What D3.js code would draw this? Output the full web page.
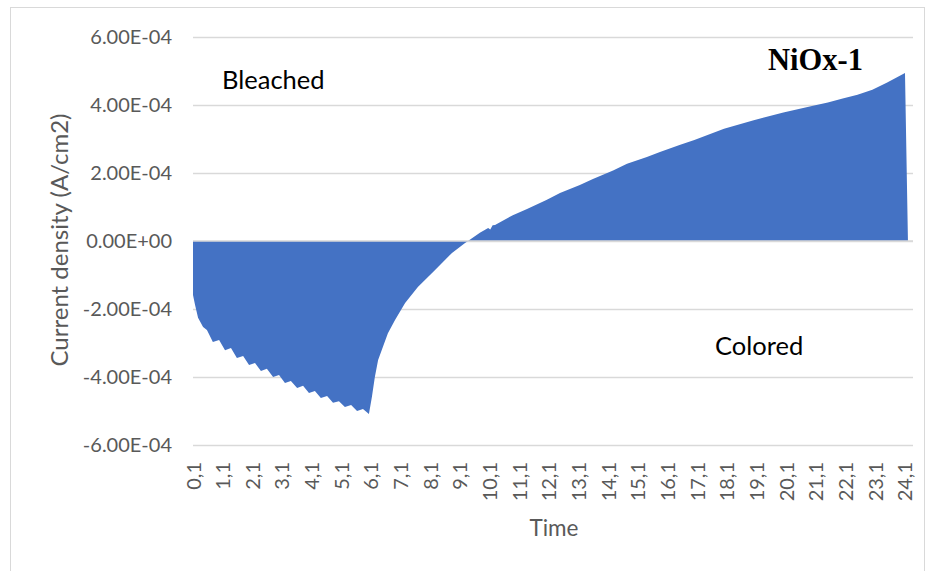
<!DOCTYPE html>
<html>
<head>
<meta charset="utf-8">
<script src="https://cdn.jsdelivr.net/npm/d3@7"></script>
<style>
  html, body { margin: 0; padding: 0; background: #fff; }
  svg { display: block; }
</style>
</head>
<body>
<svg id="chart" width="934" height="571"></svg>
<script>
// ---- data ----
const times = [
  0.10, 0.17, 0.27, 0.44,
  0.57, 0.77, 0.98, 1.18, 1.38, 1.58, 1.79, 1.99, 2.19, 2.39, 2.59, 2.80,
  3.00, 3.20, 3.40, 3.61, 3.81, 4.01, 4.21, 4.41, 4.62, 4.82, 5.02, 5.22,
  5.43, 5.63, 5.83, 6.03,
  6.13, 6.23, 6.34, 6.50, 6.67, 6.91, 7.25, 7.68, 8.26, 8.83, 9.27, 9.37,
  9.77, 10.05, 10.12, 10.20, 10.28, 10.88, 11.36, 12.03, 12.47, 13.14, 13.58,
  14.26, 14.73, 15.40, 15.84, 16.50, 17.00, 18.00, 19.00, 20.00, 21.00, 21.50,
  22.00, 22.50, 23.00, 23.50, 23.80, 24.10, 24.20
];
const currentDensity = [
  -1.59e-4, -1.88e-4, -2.26e-4, -2.53e-4,
  -2.62e-4, -2.97e-4, -2.91e-4, -3.21e-4, -3.15e-4, -3.44e-4, -3.38e-4, -3.65e-4,
  -3.59e-4, -3.82e-4, -3.76e-4, -4.00e-4, -3.94e-4, -4.18e-4, -4.12e-4, -4.32e-4,
  -4.26e-4, -4.47e-4, -4.41e-4, -4.62e-4, -4.56e-4, -4.76e-4, -4.71e-4, -4.88e-4,
  -4.82e-4, -5.00e-4, -4.94e-4, -5.09e-4,
  -4.59e-4, -4.00e-4, -3.50e-4, -3.12e-4, -2.71e-4, -2.32e-4, -1.82e-4, -1.35e-4,
  -0.85e-4, -0.35e-4, -0.06e-4, 0.00e-4,
  0.24e-4, 0.38e-4, 0.34e-4, 0.46e-4, 0.47e-4, 0.76e-4, 0.94e-4, 1.21e-4, 1.41e-4,
  1.65e-4, 1.82e-4, 2.07e-4, 2.27e-4, 2.47e-4, 2.62e-4, 2.82e-4, 2.97e-4, 3.30e-4,
  3.55e-4, 3.78e-4, 3.98e-4, 4.07e-4, 4.19e-4, 4.30e-4, 4.45e-4, 4.66e-4, 4.80e-4,
  4.94e-4, 0.00e-4
];
const xTickValues = [0.1, 1.1, 2.1, 3.1, 4.1, 5.1, 6.1, 7.1, 8.1, 9.1, 10.1, 11.1, 12.1,
  13.1, 14.1, 15.1, 16.1, 17.1, 18.1, 19.1, 20.1, 21.1, 22.1, 23.1, 24.1];
const xTickLabels = ["0,1", "1,1", "2,1", "3,1", "4,1", "5,1", "6,1", "7,1", "8,1", "9,1",
  "10,1", "11,1", "12,1", "13,1", "14,1", "15,1", "16,1", "17,1", "18,1", "19,1", "20,1",
  "21,1", "22,1", "23,1", "24,1"];
const yTickValues = [-6e-4, -4e-4, -2e-4, 0, 2e-4, 4e-4, 6e-4];
const yTickLabels = ["-6.00E-04", "-4.00E-04", "-2.00E-04", "0.00E+00", "2.00E-04", "4.00E-04", "6.00E-04"];
const annotations = ["Bleached", "Colored"];
const chartLabel = "NiOx-1";
const xTitle = "Time";
const yTitle = "Current density (A/cm2)";

// ---- layout ----
const svg = d3.select("#chart");
const plot = { left: 193, right: 913, top: 37, bottom: 445 };
const font = "Lato, 'Open Sans', sans-serif";
const grey = "#595959";
const gridColor = "#d9d9d9";

svg.append("rect")
  .attr("x", 10.5).attr("y", 7.5).attr("width", 914).attr("height", 600)
  .attr("fill", "none").attr("stroke", gridColor).attr("stroke-width", 1);

const x = d3.scaleLinear().domain([0.1, 24.37]).range([plot.left, plot.right]);
const y = d3.scaleLinear().domain([-6e-4, 6e-4]).range([plot.bottom, plot.top]);

// y axis with gridlines
const yAxis = svg.append("g")
  .attr("transform", `translate(${plot.left},0)`)
  .call(d3.axisLeft(y).tickValues(yTickValues)
    .tickFormat((d, i) => yTickLabels[i])
    .tickSize(-(plot.right - plot.left)).tickPadding(21));
yAxis.select(".domain").remove();
yAxis.selectAll("line").attr("stroke", gridColor).attr("stroke-width", 1.3);
yAxis.selectAll("text").attr("fill", grey).style("font-family", font).style("font-size", "20px");

// area
const data = times.map((t, i) => ({ t, v: currentDensity[i] }));
svg.append("path")
  .datum(data)
  .attr("fill", "#4472C4")
  .attr("d", d3.area().x(d => x(d.t)).y0(y(0)).y1(d => y(d.v)));

// zero axis line on top
svg.append("line")
  .attr("x1", plot.left).attr("x2", plot.right)
  .attr("y1", y(0)).attr("y2", y(0))
  .attr("stroke", gridColor).attr("stroke-width", 1.3);

// x axis labels
const xAxis = svg.append("g")
  .attr("transform", `translate(0,${plot.bottom})`)
  .call(d3.axisBottom(x).tickValues(xTickValues)
    .tickFormat((d, i) => xTickLabels[i]).tickSize(0));
xAxis.select(".domain").remove();
xAxis.selectAll("text")
  .attr("transform", "rotate(-90)")
  .attr("x", -17).attr("y", 0).attr("dy", "0.35em")
  .attr("text-anchor", "end")
  .attr("fill", grey).style("font-family", font).style("font-size", "20px");

// titles
svg.append("text")
  .attr("x", 554).attr("y", 536).attr("text-anchor", "middle")
  .attr("fill", grey).style("font-family", font).style("font-size", "22.5px")
  .text(xTitle);
svg.append("text")
  .attr("transform", "translate(68,240) rotate(-90)")
  .attr("text-anchor", "middle")
  .attr("fill", grey).style("font-family", font).style("font-size", "24px")
  .text(yTitle);

// annotations
svg.append("text")
  .attr("x", 222).attr("y", 89)
  .attr("fill", "#000").style("font-family", font).style("font-size", "25.5px")
  .text(annotations[0]);
svg.append("text")
  .attr("x", 715).attr("y", 355)
  .attr("fill", "#000").style("font-family", font).style("font-size", "25.5px")
  .text(annotations[1]);
svg.append("text")
  .attr("x", 768).attr("y", 70)
  .attr("fill", "#000").style("font-family", "'Liberation Serif', 'Times New Roman', serif")
  .style("font-weight", "bold").style("font-size", "30.5px")
  .text(chartLabel);
</script>
</body>
</html>
